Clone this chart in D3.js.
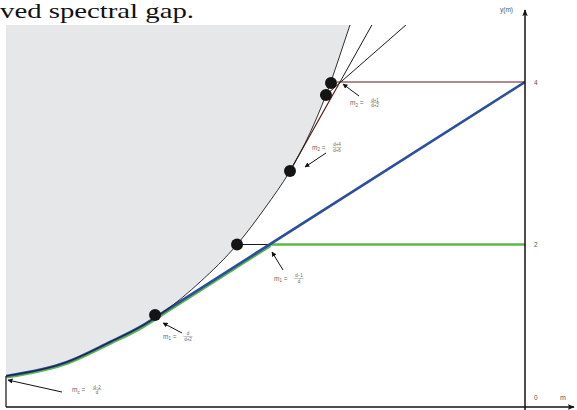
<!DOCTYPE html>
<html>
<head>
<meta charset="utf-8">
<script src="https://cdn.jsdelivr.net/npm/d3@7"></script>
<style>
  body { margin: 0; background: #fff; }
  svg { display: block; font-family: 'Liberation Sans', Arial, sans-serif; }
</style>
</head>
<body>
<svg id="chart" width="577" height="410"></svg>
<script>
// boundary curve y(m)
let curveM = [-6.0, -5.295, -4.798, -4.451, -4.162, -3.757, -3.329, -3.006, -2.717, -2.486, -2.301, -2.023, -1.954];
let curveY = [0.382, 0.554, 0.800, 0.985, 1.182, 1.538, 2.0, 2.449, 2.905, 3.372, 3.840, 4.702, 4.917];

// marked points on the curve
let dotM = [-4.277, -3.329, -2.717, -2.301, -2.243];
let dotY = [1.132, 2.0, 2.905, 3.840, 3.988];

// blue: curve, then tangent up to y = 4 at m = 0
let blueM = [-6.0, -5.295, -4.798, -4.451, -4.162, 0];
let blueY = [0.382, 0.554, 0.800, 0.985, 1.181, 4.0];
let blueBend = 4;

// green: same start, capped at y = 2
let greenM = [-6.0, -5.295, -4.798, -4.451, -4.162, -2.953, 0];
let greenY = [0.382, 0.554, 0.800, 0.985, 1.181, 2.0, 2.0];
let greenBend = 4;
let greenCap = 5;

// straight segments [m0, y0, m1, y1]
let blackSegs = [
  [-3.329, 2.0, -2.953, 2.0],
  [-2.139, 4.0, -1.666, 4.9],
  [-2.301, 3.840, -1.164, 4.9]
];
let redSegs = [
  [-2.717, 2.905, -2.139, 4.0],
  [-2.173, 4.0, 0, 4.0]
];

let yTicks = [0, 2, 4];

// arrow annotations: tip in data units
let noteM = [-5.977, -4.185, -2.925, -2.543, -2.104];
let noteY = [0.332, 1.034, 1.908, 2.954, 3.975];
let noteSub = ['c', '1', '1', '2', '2'];
let noteNum = ['d\u22122', 'd', 'd\u22121', 'd+4', 'd+1'];
let noteDen = ['d', 'd+2', 'd', 'd+6', 'd+2'];
// tail offset and label offset in px
let noteTail = [[54, 12], [19, 10], [11, 18], [21, -14], [16, 12]];
let noteText = [[64, 12], [0, 16], [2, 29], [7, -17], [7, 21]];

let width = 577;
let height = 410;

let svg = d3.select('#chart');

let x = d3.scaleLinear().domain([-6, 0]).range([6, 525]);
let y = d3.scaleLinear().domain([0, 4]).range([407, 82]);

let defs = svg.append('defs');
defs.append('clipPath').attr('id', 'plot')
  .append('rect')
  .attr('x', x(-6)).attr('y', 25)
  .attr('width', x(0) - x(-6)).attr('height', y(0) - 25);

defs.append('marker')
  .attr('id', 'head')
  .attr('viewBox', '0 0 10 10')
  .attr('refX', 9).attr('refY', 5)
  .attr('markerWidth', 5).attr('markerHeight', 5)
  .attr('markerUnits', 'userSpaceOnUse')
  .attr('orient', 'auto')
  .append('path').attr('d', 'M0,0L10,5L0,10z').attr('fill', '#111');

defs.append('marker')
  .attr('id', 'axhead')
  .attr('viewBox', '0 0 10 10')
  .attr('refX', 9).attr('refY', 5)
  .attr('markerWidth', 7).attr('markerHeight', 7)
  .attr('markerUnits', 'userSpaceOnUse')
  .attr('orient', 'auto')
  .append('path').attr('d', 'M0,1L10,5L0,9L2.5,5z').attr('fill', '#111');

// caption fragment above
svg.append('text')
  .attr('x', 0).attr('y', 18)
  .style('font-family', "'Liberation Serif', 'DejaVu Serif', serif")
  .attr('font-size', 21)
  .attr('textLength', 194)
  .attr('lengthAdjust', 'spacingAndGlyphs')
  .attr('fill', '#111')
  .text('ved spectral gap.');

let plot = svg.append('g').attr('clip-path', 'url(#plot)');

let curvePts = curveM.map((m, i) => [m, curveY[i]]);

// grey region above the curve
let area = d3.area()
  .x(d => x(d[0]))
  .y0(d => y(d[1]))
  .y1(y(5.5))
  .curve(d3.curveMonotoneX);

plot.append('path')
  .attr('d', area(curvePts))
  .attr('fill', '#e6e7e8');

let smooth = d3.line().x(d => x(d[0])).y(d => y(d[1])).curve(d3.curveMonotoneX);
let straight = d3.line().x(d => x(d[0])).y(d => y(d[1]));

function seg(g, s, color, w) {
  g.append('path')
    .attr('d', straight([[s[0], s[1]], [s[2], s[3]]]))
    .attr('fill', 'none')
    .attr('stroke', color)
    .attr('stroke-width', w);
}

blackSegs.forEach(s => seg(plot, s, '#1a1a1a', 1));

// green under the blue, slightly offset
let greenPts = greenM.map((m, i) => [m, greenY[i]]);
let greenG = plot.append('g').attr('transform', 'translate(0.9,1.3)');
greenG.append('path')
  .attr('d', smooth(greenPts.slice(0, greenBend + 1)) + straight(greenPts.slice(greenBend, greenCap + 1)).replace('M', 'L'))
  .attr('fill', 'none').attr('stroke', '#58b947').attr('stroke-width', 2.6);
plot.append('path')
  .attr('d', straight(greenPts.slice(greenCap)))
  .attr('fill', 'none').attr('stroke', '#58b947').attr('stroke-width', 2.6);

let bluePts = blueM.map((m, i) => [m, blueY[i]]);
plot.append('path')
  .attr('d', smooth(bluePts.slice(0, blueBend + 1)) + straight(bluePts.slice(blueBend)).replace('M', 'L'))
  .attr('fill', 'none').attr('stroke', '#2c4e9e').attr('stroke-width', 2.6)
  .attr('stroke-linejoin', 'round');

redSegs.forEach(s => seg(plot, s, '#5e1b1b', 1.2));

plot.append('path')
  .attr('d', smooth(curvePts))
  .attr('fill', 'none')
  .attr('stroke', '#1a1a1a')
  .attr('stroke-width', 0.9);

// dots
plot.selectAll('circle.dot')
  .data(dotM.map((m, i) => [m, dotY[i]]))
  .join('circle')
  .attr('class', 'dot')
  .attr('cx', d => x(d[0]))
  .attr('cy', d => y(d[1]))
  .attr('r', 6)
  .attr('fill', '#141414');

// axes
svg.append('line')
  .attr('x1', x(-6)).attr('x2', x(-6))
  .attr('y1', y(curveY[0])).attr('y2', y(0))
  .attr('stroke', '#111').attr('stroke-width', 1.2);

svg.append('line')
  .attr('x1', x(-6)).attr('x2', width - 3)
  .attr('y1', y(0)).attr('y2', y(0))
  .attr('stroke', '#111').attr('stroke-width', 1.5)
  .attr('marker-end', 'url(#axhead)');

svg.append('line')
  .attr('x1', x(0)).attr('x2', x(0))
  .attr('y1', height).attr('y2', 10)
  .attr('stroke', '#111').attr('stroke-width', 1.5)
  .attr('marker-end', 'url(#axhead)');

let yAxis = svg.append('g')
  .attr('transform', 'translate(' + x(0) + ',0)')
  .call(d3.axisRight(y).tickValues(yTicks).tickFormat(d3.format('d')).tickSize(0).tickPadding(9));
yAxis.select('.domain').remove();
yAxis.selectAll('text')
  .attr('font-size', 6.5)
  .attr('fill', '#555')
  .style('font-family', "'Liberation Sans', Arial, sans-serif");
yAxis.selectAll('.tick').filter(d => d === 0).select('text').attr('dy', '-1.1em');

svg.append('text')
  .attr('x', 513).attr('y', 12)
  .attr('text-anchor', 'end')
  .attr('font-size', 6.5).attr('fill', '#555')
  .text('y(m)');

svg.append('text')
  .attr('x', 560).attr('y', 400)
  .attr('font-size', 7).attr('fill', '#555')
  .text('m');

// annotations
let notes = svg.append('g');
noteM.forEach(function(m, i) {
  let tx = x(m), ty = y(noteY[i]);
  let t = noteTail[i], l = noteText[i];

  notes.append('line')
    .attr('x1', tx + t[0]).attr('y1', ty + t[1])
    .attr('x2', tx).attr('y2', ty)
    .attr('stroke', '#111').attr('stroke-width', 1)
    .attr('marker-end', 'url(#head)');

  let lx = tx + l[0], ly = ty + l[1];
  let label = notes.append('text')
    .attr('x', lx).attr('y', ly)
    .attr('font-size', 6.5).attr('fill', '#666');
  label.append('tspan').text('m');
  label.append('tspan').attr('font-size', 4.5).attr('dy', 1.5).text(noteSub[i]);
  label.append('tspan').attr('dy', -1.5).text(' =');

  let cx = lx + 25, cy = ly - 2.5;
  notes.append('text')
    .attr('x', cx).attr('y', cy - 1)
    .attr('text-anchor', 'middle')
    .attr('font-size', 4.5).attr('fill', '#666')
    .text(noteNum[i]);
  notes.append('line')
    .attr('x1', cx - 4.5).attr('x2', cx + 4.5)
    .attr('y1', cy).attr('y2', cy)
    .attr('stroke', '#888').attr('stroke-width', 0.5);
  notes.append('text')
    .attr('x', cx).attr('y', cy + 4.5)
    .attr('text-anchor', 'middle')
    .attr('font-size', 4.5).attr('fill', '#666')
    .text(noteDen[i]);
});
</script>
</body>
</html>
